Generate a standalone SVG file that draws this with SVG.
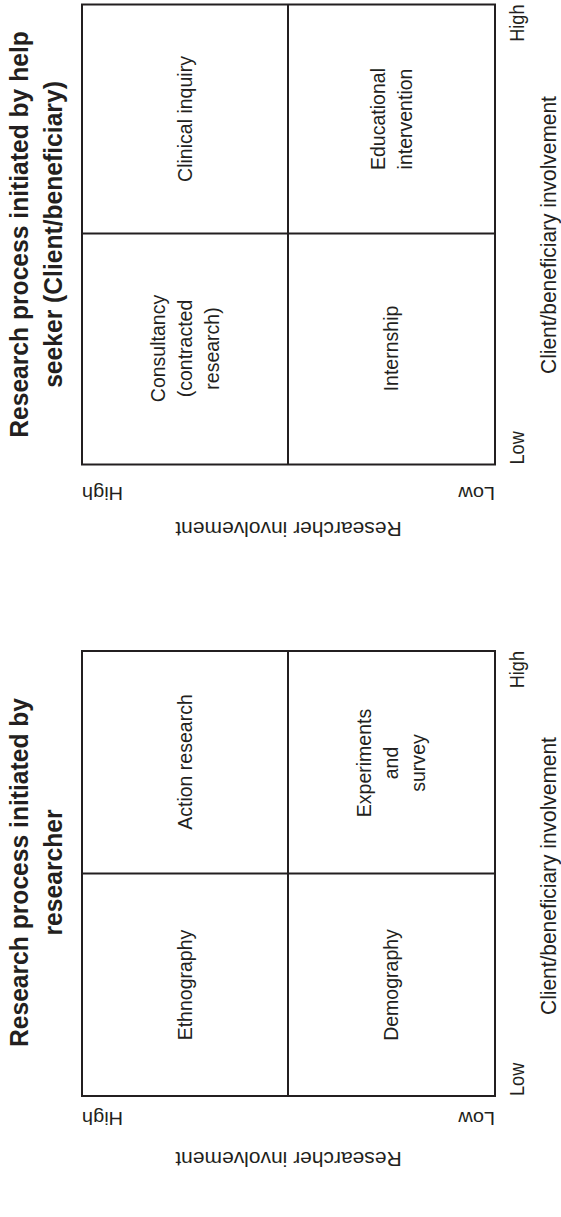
<svg xmlns="http://www.w3.org/2000/svg" width="561" height="1217" viewBox="0 0 561 1217">
<style>
  .frame { fill: none; stroke: #231f20; stroke-width: 2; }
  .div { stroke: #231f20; stroke-width: 2; }
  text { font-family: "Liberation Sans", Arial, Helvetica, sans-serif; fill: #231f20; }
  .title { font-size: 26.5px; font-weight: bold; text-anchor: middle; }
  .cell { font-size: 21px; text-anchor: middle; }
  .axis { font-size: 19.5px; }
  .axisx { font-size: 22.5px; text-anchor: middle; }
  .axisy { font-size: 20px; }
  .axisylab { font-size: 21px; text-anchor: middle; }
</style>
<rect width="561" height="1217" fill="#ffffff"/>

<!-- ===== Top panel: initiated by help seeker ===== -->
<g id="panel-helpseeker">
  <g id="title-helpseeker">
    <text class="title" transform="translate(27.5,234.5) rotate(-90) scale(0.93,1)">Research process initiated by help</text>
    <text class="title" transform="translate(62,234.5) rotate(-90) scale(0.93,1)">seeker (Client/beneficiary)</text>
  </g>
  <g id="grid-helpseeker">
    <rect class="frame" x="82" y="4.5" width="413" height="460"/>
    <line class="div" x1="288" y1="4.5" x2="288" y2="464.5"/>
    <line class="div" x1="82" y1="233.5" x2="495" y2="233.5"/>
  </g>
  <g id="cell-clinical-inquiry">
    <text class="cell" transform="translate(191.5,119) rotate(-90) scale(0.93,1)">Clinical inquiry</text>
  </g>
  <g id="cell-consultancy">
    <text class="cell" transform="translate(164.5,348.5) rotate(-90) scale(0.93,1)">Consultancy</text>
    <text class="cell" transform="translate(191.5,348.5) rotate(-90) scale(0.93,1)">(contracted</text>
    <text class="cell" transform="translate(218.5,348.5) rotate(-90) scale(0.93,1)">research)</text>
  </g>
  <g id="cell-educational-intervention">
    <text class="cell" transform="translate(384.5,119) rotate(-90) scale(0.93,1)">Educational</text>
    <text class="cell" transform="translate(411.5,119) rotate(-90) scale(0.93,1)">intervention</text>
  </g>
  <g id="cell-internship">
    <text class="cell" transform="translate(398,348.5) rotate(-90) scale(0.93,1)">Internship</text>
  </g>
  <g id="axis-client-helpseeker">
    <text class="axis" text-anchor="end" transform="translate(524,4.5) rotate(-90) scale(0.93,1)">High</text>
    <text class="axis" text-anchor="start" transform="translate(524,464.5) rotate(-90) scale(0.93,1)">Low</text>
    <text class="axisx" transform="translate(556,235) rotate(-90) scale(0.93,1)">Client/beneficiary involvement</text>
  </g>
  <g id="axis-researcher-helpseeker">
    <text class="axisy" text-anchor="end" transform="translate(82,487) rotate(180) scale(1,0.93)">High</text>
    <text class="axisy" text-anchor="start" transform="translate(495,487) rotate(180) scale(1,0.93)">Low</text>
    <text class="axisylab" transform="translate(288.5,522) rotate(180) scale(1,0.93)">Researcher involvement</text>
  </g>
</g>

<!-- ===== Bottom panel: initiated by researcher ===== -->
<g id="panel-researcher">
  <g id="title-researcher">
    <text class="title" transform="translate(28,872.5) rotate(-90) scale(0.93,1)">Research process initiated by</text>
    <text class="title" transform="translate(62,872.5) rotate(-90) scale(0.93,1)">researcher</text>
  </g>
  <g id="grid-researcher">
    <rect class="frame" x="82" y="651" width="413" height="445"/>
    <line class="div" x1="288" y1="651" x2="288" y2="1096"/>
    <line class="div" x1="82" y1="873.5" x2="495" y2="873.5"/>
  </g>
  <g id="cell-action-research">
    <text class="cell" transform="translate(191.5,762) rotate(-90) scale(0.93,1)">Action research</text>
  </g>
  <g id="cell-ethnography">
    <text class="cell" transform="translate(191.5,985) rotate(-90) scale(0.93,1)">Ethnography</text>
  </g>
  <g id="cell-experiments-survey">
    <text class="cell" transform="translate(371,763) rotate(-90) scale(0.93,1)">Experiments</text>
    <text class="cell" transform="translate(398,763) rotate(-90) scale(0.93,1)">and</text>
    <text class="cell" transform="translate(425,763) rotate(-90) scale(0.93,1)">survey</text>
  </g>
  <g id="cell-demography">
    <text class="cell" transform="translate(398,985) rotate(-90) scale(0.93,1)">Demography</text>
  </g>
  <g id="axis-client-researcher">
    <text class="axis" text-anchor="end" transform="translate(524,651) rotate(-90) scale(0.93,1)">High</text>
    <text class="axis" text-anchor="start" transform="translate(524,1096) rotate(-90) scale(0.93,1)">Low</text>
    <text class="axisx" transform="translate(556,876) rotate(-90) scale(0.93,1)">Client/beneficiary involvement</text>
  </g>
  <g id="axis-researcher-researcher">
    <text class="axisy" text-anchor="end" transform="translate(82,1112) rotate(180) scale(1,0.93)">High</text>
    <text class="axisy" text-anchor="start" transform="translate(495,1112) rotate(180) scale(1,0.93)">Low</text>
    <text class="axisylab" transform="translate(288.5,1152) rotate(180) scale(1,0.93)">Researcher involvement</text>
  </g>
</g>

<g id="connectors"></g>
</svg>
